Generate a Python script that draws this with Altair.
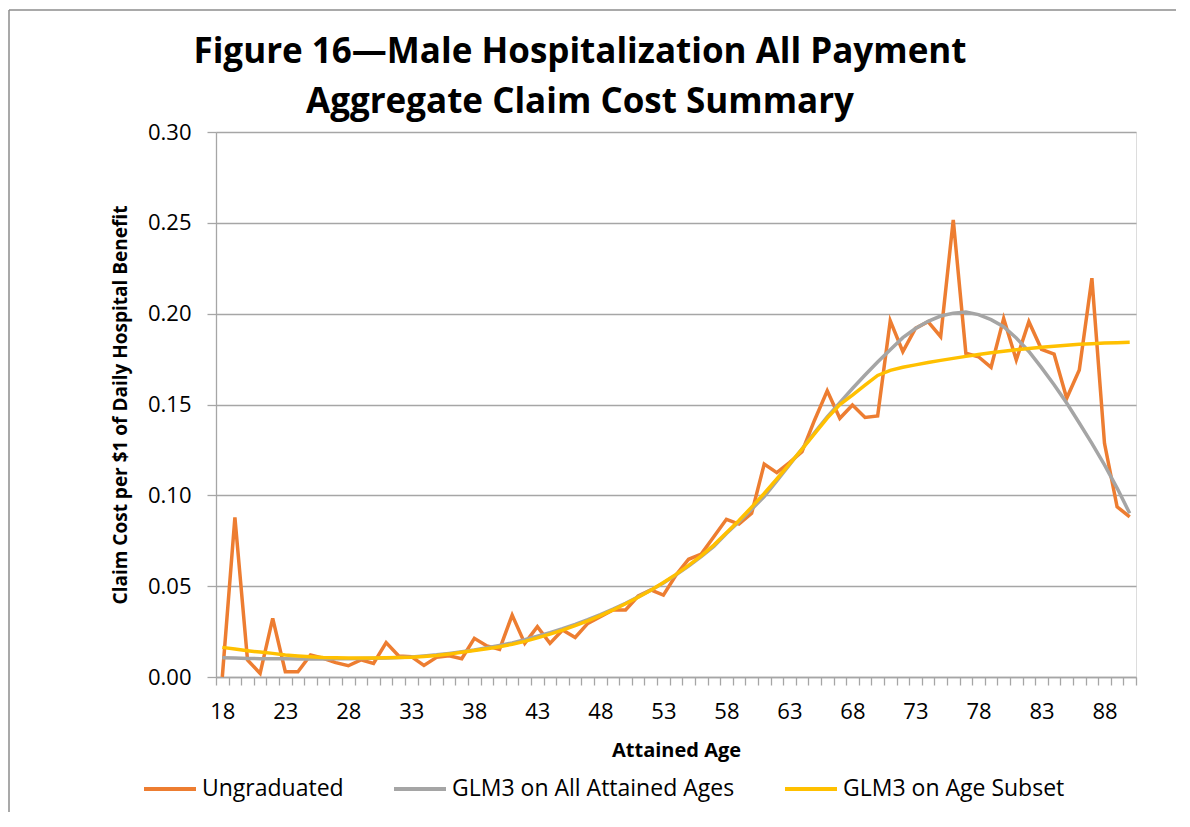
import altair as alt
import pandas as pd

ages = list(range(18, 91))

ungraduated = [
    0.0000, 0.0879, 0.0094, 0.0020, 0.0323, 0.0029, 0.0029, 0.0121, 0.0103, 0.0079,
    0.0062, 0.0094, 0.0075, 0.0189, 0.0116, 0.0112, 0.0064, 0.0108, 0.0117, 0.0101,
    0.0213, 0.0171, 0.0152, 0.0341, 0.0185, 0.0277, 0.0185, 0.0259, 0.0218, 0.0295,
    0.0332, 0.0369, 0.0369, 0.0446, 0.0479, 0.0451, 0.0561, 0.0648, 0.0677, 0.0772,
    0.0868, 0.0842, 0.0901, 0.1172, 0.1125, 0.1180, 0.1240, 0.1415, 0.1576, 0.1424,
    0.1497, 0.1429, 0.1437, 0.1961, 0.1791, 0.1919, 0.1956, 0.1873, 0.2516, 0.1782,
    0.1763, 0.1705, 0.1974, 0.1745, 0.1956, 0.1804, 0.1778, 0.1534, 0.1690, 0.2195,
    0.1286, 0.0937, 0.0882,
]

glm_all = [
    0.0106, 0.0104, 0.0102, 0.0101, 0.0100, 0.0100, 0.0099, 0.0099, 0.0099, 0.0100,
    0.0101, 0.0102, 0.0103, 0.0105, 0.0107, 0.0110, 0.0116, 0.0122, 0.0130, 0.0139,
    0.0149, 0.0161, 0.0174, 0.0188, 0.0205, 0.0224, 0.0244, 0.0266, 0.0290, 0.0316,
    0.0344, 0.0374, 0.0406, 0.0441, 0.0478, 0.0518, 0.0562, 0.0610, 0.0662, 0.0718,
    0.0790, 0.0855, 0.0923, 0.0993, 0.1080, 0.1168, 0.1256, 0.1345, 0.1432, 0.1510,
    0.1588, 0.1662, 0.1734, 0.1802, 0.1868, 0.1918, 0.1958, 0.1987, 0.2003, 0.2009,
    0.1995, 0.1967, 0.1928, 0.1866, 0.1792, 0.1703, 0.1609, 0.1508, 0.1398, 0.1286,
    0.1168, 0.1040, 0.0901,
]

glm_subset = [
    0.0163, 0.0154, 0.0145, 0.0137, 0.0130, 0.0121, 0.0116, 0.0112, 0.0108, 0.0106,
    0.0105, 0.0105, 0.0105, 0.0106, 0.0107, 0.0109, 0.0113, 0.0118, 0.0126, 0.0136,
    0.0146, 0.0156, 0.0167, 0.0180, 0.0196, 0.0215, 0.0236, 0.0258, 0.0283, 0.0309,
    0.0338, 0.0369, 0.0403, 0.0439, 0.0478, 0.0520, 0.0565, 0.0614, 0.0667, 0.0726,
    0.0794, 0.0862, 0.0935, 0.1010, 0.1090, 0.1172, 0.1255, 0.1340, 0.1425, 0.1500,
    0.1552, 0.1607, 0.1660, 0.1688, 0.1705, 0.1718, 0.1731, 0.1743, 0.1754, 0.1765,
    0.1775, 0.1785, 0.1793, 0.1801, 0.1808, 0.1815, 0.1821, 0.1826, 0.1831, 0.1835,
    0.1838, 0.1840, 0.1842,
]

series_names = ["Ungraduated", "GLM3 on All Attained Ages", "GLM3 on Age Subset"]
series_colors = ["#ED7D31", "#A5A5A5", "#FFC000"]
y_ticks = [0, 0.05, 0.10, 0.15, 0.20, 0.25, 0.30]
x_label_ages = list(range(18, 89, 5))
x_tick_bounds = [a - 0.5 for a in ages] + [ages[-1] + 0.5]

rows = []
for name, vals in zip(series_names, [ungraduated, glm_all, glm_subset]):
    for a, v in zip(ages, vals):
        rows.append({"age": a, "value": v, "series": name})
df = pd.DataFrame(rows)

FONT = "Open Sans"
W, H = 920, 545
GRID = "#A6A6A6"

label_list = ",".join(str(a) for a in x_label_ages)
label_expr = f"indexof([{label_list}], datum.value + 0.5) >= 0 ? format(datum.value + 0.5, 'd') : ''"

x_enc = alt.X(
    "age:Q",
    scale=alt.Scale(domain=[17.5, 90.5], nice=False, zero=False),
    axis=alt.Axis(
        values=x_tick_bounds,
        labelExpr=label_expr,
        labelOffset=6.3,
        labelOverlap=False,
        labelFlush=False,
        labelBound=False,
        labelFontSize=22,
        labelFont=FONT,
        labelColor="#000000",
        labelPadding=16,
        tickSize=8,
        tickColor=GRID,
        tickWidth=1.3,
        domainColor=GRID,
        domainWidth=1.3,
        grid=False,
        title="Attained Age",
        titleFont=FONT,
        titleFontSize=20,
        titleFontWeight="bold",
        titleColor="#000000",
        titlePadding=18,
    ),
)

y_enc = alt.Y(
    "value:Q",
    scale=alt.Scale(domain=[0, 0.30], nice=False),
    axis=alt.Axis(
        values=y_ticks,
        format=".2f",
        grid=True,
        gridColor=GRID,
        gridWidth=1.3,
        tickSize=9,
        tickColor=GRID,
        tickWidth=1.3,
        domainColor=GRID,
        domainWidth=1.3,
        labelFontSize=22,
        labelFont=FONT,
        labelColor="#000000",
        labelPadding=16,
        title="Claim Cost per $1 of Daily Hospital Benefit",
        titleFont=FONT,
        titleFontSize=19,
        titleFontWeight="bold",
        titleColor="#000000",
        titlePadding=17,
    ),
)

color_enc = alt.Color(
    "series:N",
    scale=alt.Scale(domain=series_names, range=series_colors),
    legend=alt.Legend(
        title=None,
        orient="none",
        legendX=-74,
        legendY=629,
        direction="horizontal",
        symbolType="stroke",
        symbolSize=2704,
        symbolStrokeWidth=4,
        labelFontSize=23,
        labelFont=FONT,
        labelColor="#000000",
        labelOffset=4,
        labelLimit=0,
        columnPadding=42,
        padding=0,
    ),
)

base = alt.Chart(df).encode(x=x_enc, y=y_enc, color=color_enc)
layers = [
    base.transform_filter(alt.datum.series == name).mark_line(strokeWidth=3.5)
    for name in series_names
]

frame_df = pd.DataFrame({"k": [0]})
frame_left = alt.Chart(frame_df).mark_rule(color="#8C8C8C", strokeWidth=1.5).encode(
    x=alt.value(-207), y=alt.value(-122), y2=alt.value(H + 140)
)
frame_top = alt.Chart(frame_df).mark_rule(color="#8C8C8C", strokeWidth=1.5).encode(
    x=alt.value(-207), x2=alt.value(W + 46), y=alt.value(-122)
)

chart = alt.layer(*layers, frame_left, frame_top).properties(
    width=W,
    height=H,
    autosize=alt.AutoSizeParams(type="none"),
    padding={"left": 208, "top": 124, "right": 40, "bottom": 135},
    title=alt.TitleParams(
        text=["Figure 16\u2014Male Hospitalization All Payment", "Aggregate Claim Cost Summary"],
        font=FONT,
        fontSize=35,
        fontWeight="bold",
        color="#000000",
        anchor="middle",
        dx=-96,
        dy=125,
        lineHeight=50,
        offset=14,
    ),
).configure_view(stroke=None).configure(font=FONT)

chart.save("out.html", embed_options={"renderer": "svg", "actions": False})
